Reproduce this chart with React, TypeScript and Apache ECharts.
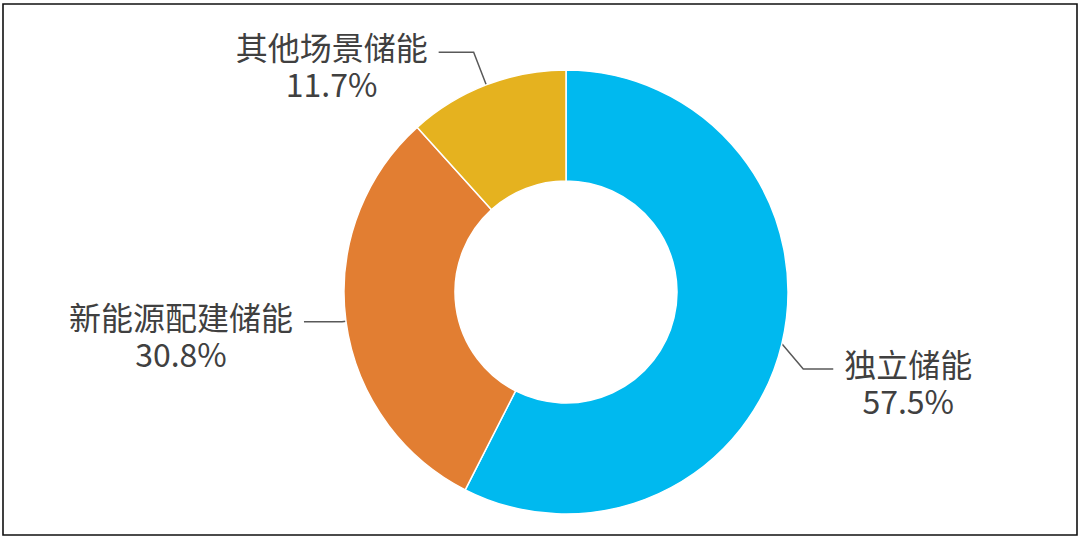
import React, { useEffect, useRef } from 'react';
import * as echarts from 'echarts';

const categories = ['独立储能', '新能源配建储能', '其他场景储能'];
const shares = [57.5, 30.8, 11.7];
const colors = ['#00B9EF', '#E27E32', '#E5B21F'];

export default function App() {
  const ref = useRef<HTMLDivElement>(null);
  useEffect(() => {
    const chart = echarts.init(ref.current!, undefined, { renderer: 'svg' });
    const lineLens = [
      [22, 30],
      [4, 38],
      [35, 35],
    ];
    const lh = 37;
    chart.setOption({
      animation: false,
      backgroundColor: '#ffffff',
      graphic: [
        {
          type: 'rect',
          silent: true,
          shape: { x: 3, y: 4, width: 1074, height: 531 },
          style: { fill: 'none', stroke: '#111111', lineWidth: 1.6 },
        },
      ],
      series: [
        {
          type: 'pie',
          center: [566, 292],
          radius: [111, 222],
          startAngle: 90,
          clockwise: true,
          avoidLabelOverlap: false,
          itemStyle: { borderColor: '#ffffff', borderWidth: 1.5 },
          label: {
            show: true,
            position: 'outside',
            distanceToLabelLine: 0,
            padding: [lh - 12, 11, 0, 11],
            backgroundColor: 'transparent',
            formatter: (p: any) => `{t|${p.name}}\n{t|${Number(p.value).toFixed(1)}%}`,
            rich: {
              t: {
                fontSize: 32,
                lineHeight: lh,
                color: '#404040',
                fontFamily: '"Noto Sans CJK SC", "Noto Sans", sans-serif',
                align: 'center',
              },
            },
          },
          labelLine: { show: true, lineStyle: { color: '#595959', width: 1.5 } },
          labelLayout: (p: any) => {
            if (p.dataIndex !== 0) return {};
            const r = p.labelRect;
            return { x: r.x, y: r.y + r.height / 2 + 20 };
          },
          data: categories.map((name, i) => ({
            name,
            value: shares[i],
            itemStyle: { color: colors[i] },
            labelLine: { length: lineLens[i][0], length2: lineLens[i][1] },
          })),
        },
      ],
    });
    return () => chart.dispose();
  }, []);
  return (
    <div
      ref={ref}
      style={{ position: 'fixed', left: 0, top: 0, width: 1080, height: 538 }}
    />
  );
}
